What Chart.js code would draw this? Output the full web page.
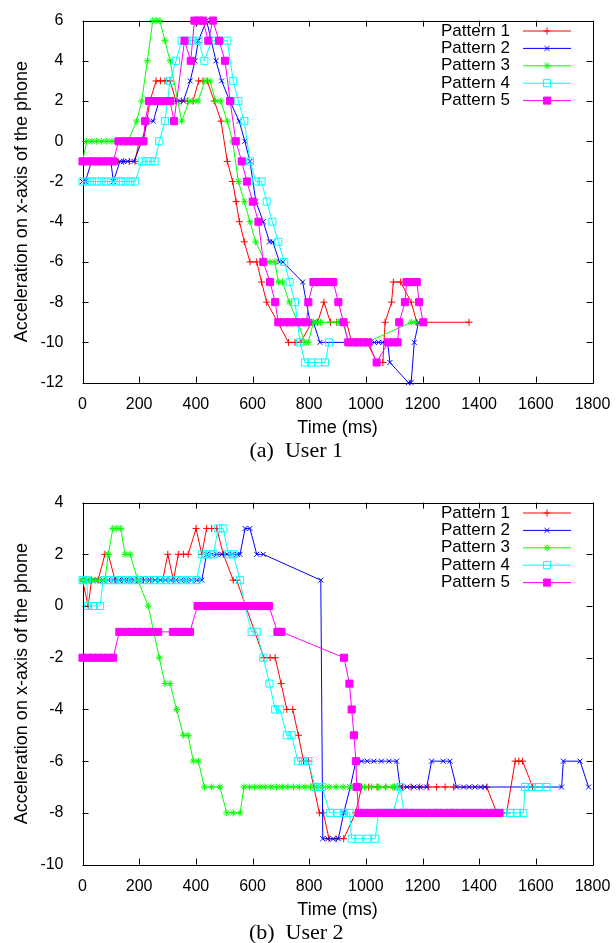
<!DOCTYPE html>
<html>
<head>
<meta charset="utf-8">
<script src="https://cdn.jsdelivr.net/npm/chart.js@4.4.1/dist/chart.umd.min.js"></script>
<style>
  html, body { margin: 0; padding: 0; background: #fff; overflow: hidden; }
  .panel { position: absolute; left: 0; width: 616px; height: 482px; }
</style>
</head>
<body>
<div class="panel" style="top:0"><canvas id="user1" width="616" height="482"></canvas></div>
<div class="panel" style="top:482px"><canvas id="user2" width="616" height="482"></canvas></div>
<script>
// [time (ms), acceleration] samples, user 1
const u1p1 = [[0,-1],[20,-1],[40,-1],[60,-1],[80,-1],[100,-1],[125,-1],[145,-1],[165,-1],[185,-1],[200,0],[215,0],[238,2],[260,3],[275,3],[291,3],[309,3],[330,2],[350,2],[370,2],[390,2],[410,3],[425,3],[440,3],[465,2],[489,1],[511,-1],[530,-2],[542,-3],[554,-4],[571,-5],[591,-6],[615,-6],[632,-7],[650,-8],[689,-9],[727,-10],[750,-10],[770,-10],[809,-9],[830,-9],[852,-8],[875,-9],[897,-9],[915,-9],[932,-9],[950,-10],[975,-10],[1004,-10],[1040,-11],[1060,-11],[1068,-9],[1091,-8],[1097,-7],[1123,-7],[1160,-8],[1180,-9],[1364,-9]];
const u1p2 = [[0,-2],[10,-2],[32,-1],[55,-1],[80,-1],[100,-1],[109,-2],[132,-1],[145,-1],[160,-1],[182,-1],[209,0],[229,1],[250,1],[270,2],[295,2],[315,2],[335,2],[356,2],[380,3],[397,4],[409,5],[438,6],[471,4],[491,3],[520,2],[553,1],[573,0],[591,-1],[612,-3],[638,-4],[660,-5],[672,-5],[695,-6],[707,-6],[777,-7],[803,-9],[815,-9],[838,-10],[1030,-10],[1045,-10],[1060,-10],[1077,-10],[1085,-11],[1150,-12],[1160,-12],[1171,-10],[1186,-9]];
const u1p3 = [[0,-1],[15,0],[33,0],[50,0],[68,0],[86,0],[104,0],[120,0],[140,0],[160,0],[191,1],[209,2],[229,4],[248,6],[260,6],[273,6],[291,5],[309,4],[350,1],[376,2],[392,2],[408,2],[432,3],[450,3],[470,2],[488,2],[511,1],[530,0],[550,-2],[571,-3],[591,-4],[611,-5],[645,-6],[662,-6],[679,-6],[691,-7],[706,-7],[730,-8],[760,-9],[785,-10],[797,-10],[815,-9],[827,-9],[840,-9],[903,-9],[918,-9],[940,-10],[1004,-10],[1160,-9],[1176,-9]];
const u1p4 = [[0,-2],[17,-2],[33,-2],[50,-2],[67,-2],[84,-2],[101,-2],[118,-2],[135,-2],[152,-2],[169,-2],[186,-2],[209,-1],[225,-1],[240,-1],[255,-1],[271,0],[291,1],[309,3],[330,4],[350,5],[368,5],[388,5],[409,5],[430,4],[456,5],[483,5],[511,5],[532,3],[550,2],[571,1],[591,-1],[612,-2],[632,-2],[650,-3],[670,-4],[691,-5],[712,-6],[731,-7],[750,-8],[768,-10],[785,-11],[808,-11],[832,-11],[856,-11],[870,-10]];
const u1p5 = [[0,-1],[18,-1],[36,-1],[55,-1],[73,-1],[91,-1],[109,-1],[127,0],[145,0],[163,0],[181,0],[199,0],[215,0],[221,1],[235,2],[250,2],[265,2],[280,2],[295,2],[309,2],[323,1],[360,5],[382,4],[395,6],[410,6],[425,6],[444,5],[460,6],[482,5],[503,4],[521,2],[541,0],[562,-1],[580,-2],[601,-3],[621,-4],[638,-6],[662,-7],[680,-8],[691,-9],[711,-9],[731,-9],[751,-9],[771,-9],[791,-9],[797,-8],[815,-7],[835,-7],[855,-7],[870,-7],[885,-7],[903,-8],[921,-9],[938,-10],[956,-10],[973,-10],[991,-10],[1009,-10],[1038,-11],[1079,-10],[1097,-10],[1112,-10],[1118,-9],[1138,-8],[1144,-7],[1162,-7],[1180,-7],[1188,-8],[1203,-9]];

// user 2
const u2p1 = [[0,1],[20,0],[32,1],[55,1],[79,2],[91,2],[115,1],[140,1],[165,1],[190,1],[215,1],[240,1],[265,1],[283,1],[301,2],[321,1],[338,2],[356,2],[373,2],[401,3],[421,2],[438,3],[456,3],[474,3],[497,2],[532,1],[544,1],[640,-2],[662,-2],[680,-2],[701,-3],[721,-4],[742,-4],[762,-5],[780,-6],[797,-6],[836,-8],[850,-8],[870,-9],[895,-9],[922,-9],[964,-8],[985,-7],[1010,-7],[1040,-7],[1070,-7],[1100,-7],[1130,-7],[1160,-7],[1190,-7],[1220,-7],[1250,-7],[1280,-7],[1310,-7],[1427,-7],[1462,-8],[1497,-8],[1527,-6],[1540,-6],[1553,-6],[1589,-7]];
const u2p2 = [[0,1],[18,1],[36,1],[55,1],[73,1],[91,1],[110,1],[128,1],[146,1],[165,1],[183,1],[201,1],[220,1],[238,1],[256,1],[275,1],[293,1],[311,1],[330,1],[348,1],[366,1],[385,1],[403,1],[421,1],[438,2],[456,2],[474,2],[492,2],[510,2],[528,2],[546,2],[556,2],[574,3],[591,3],[615,2],[638,2],[841,1],[848,-9],[866,-9],[884,-9],[903,-9],[922,-8],[945,-7],[965,-6],[985,-6],[1005,-6],[1028,-6],[1055,-6],[1082,-6],[1109,-6],[1121,-7],[1145,-7],[1170,-7],[1192,-7],[1215,-7],[1232,-6],[1273,-6],[1297,-6],[1320,-7],[1345,-7],[1365,-7],[1385,-7],[1405,-7],[1420,-7],[1691,-7],[1697,-6],[1756,-6],[1786,-7]];
const u2p3 = [[0,1],[15,1],[30,1],[45,1],[60,1],[79,1],[91,2],[107,3],[121,3],[135,3],[150,2],[168,2],[195,1],[232,0],[271,-2],[291,-3],[309,-3],[332,-4],[356,-5],[373,-5],[391,-6],[409,-6],[430,-7],[456,-7],[485,-7],[509,-8],[532,-8],[556,-8],[570,-7],[590,-7],[608,-7],[627,-7],[645,-7],[665,-7],[685,-7],[705,-7],[725,-7],[745,-7],[765,-7],[785,-7],[805,-7],[825,-7],[845,-7],[870,-7],[895,-7],[920,-7],[945,-7],[970,-7],[995,-7],[1020,-7],[1045,-7],[1070,-7],[1095,-7],[1110,-7]];
const u2p4 = [[0,1],[15,1],[20,0],[40,0],[62,0],[73,1],[95,1],[115,1],[135,1],[155,1],[175,1],[195,1],[215,1],[235,1],[255,1],[275,1],[295,1],[315,1],[335,1],[355,1],[375,1],[403,1],[421,2],[438,2],[450,2],[462,2],[479,3],[497,3],[515,2],[532,2],[556,1],[573,0],[597,-1],[615,-1],[638,-2],[660,-3],[680,-4],[697,-4],[721,-5],[738,-5],[760,-6],[778,-6],[797,-6],[821,-7],[845,-7],[873,-8],[900,-8],[922,-8],[943,-8],[950,-9],[975,-9],[1005,-9],[1033,-9],[1045,-8],[1070,-8],[1096,-8],[1121,-7],[1135,-8],[1160,-8],[1200,-8],[1250,-8],[1300,-8],[1350,-8],[1400,-8],[1450,-8],[1485,-8],[1510,-8],[1533,-8],[1556,-8],[1562,-7],[1585,-7],[1610,-7],[1638,-7]];
const u2p5 = [[0,-2],[18,-2],[36,-2],[55,-2],[73,-2],[91,-2],[108,-2],[130,-1],[156,-1],[174,-1],[193,-1],[211,-1],[230,-1],[248,-1],[267,-1],[319,-1],[338,-1],[357,-1],[379,-1],[406,0],[424,0],[442,0],[460,0],[478,0],[496,0],[514,0],[532,0],[550,0],[568,0],[586,0],[604,0],[622,0],[640,0],[658,0],[688,-1],[702,-1],[923,-2],[942,-3],[950,-4],[958,-5],[965,-6],[968,-7],[975,-8],[995,-8],[1015,-8],[1035,-8],[1055,-8],[1075,-8],[1095,-8],[1115,-8],[1135,-8],[1155,-8],[1175,-8],[1195,-8],[1215,-8],[1235,-8],[1255,-8],[1275,-8],[1295,-8],[1315,-8],[1335,-8],[1355,-8],[1375,-8],[1395,-8],[1415,-8],[1435,-8],[1455,-8],[1472,-8]];

const patternNames = ['Pattern 1', 'Pattern 2', 'Pattern 3', 'Pattern 4', 'Pattern 5'];
const xTicks = [0, 200, 400, 600, 800, 1000, 1200, 1400, 1600, 1800];
const u1YRange = [-12, 6];
const u2YRange = [-10, 4];

const styles = [
  { color: '#ff0000', point: 'cross', radius: 3.5, fill: '#ff0000' },
  { color: '#0000ff', point: 'crossRot', radius: 3.5, fill: '#0000ff' },
  { color: '#00ff00', point: 'star', radius: 3.5, fill: '#00ff00' },
  { color: '#00ffff', point: 'rect', radius: 5, fill: 'rgba(0,0,0,0)' },
  { color: '#ff00ff', point: 'rect', radius: 5, fill: '#ff00ff' }
];

const FONT = 'Liberation Sans';

// box with inward ticks on all four sides (gnuplot look)
const frame = {
  id: 'frame',
  beforeDatasetsDraw(chart) {
    const { ctx, chartArea: a, scales: { x, y } } = chart;
    ctx.save();
    ctx.strokeStyle = '#000';
    ctx.lineWidth = 1;
    ctx.beginPath();
    x.ticks.forEach(t => {
      const px = Math.round(x.getPixelForValue(t.value)) + 0.5;
      ctx.moveTo(px, a.bottom); ctx.lineTo(px, a.bottom - 6);
      ctx.moveTo(px, a.top); ctx.lineTo(px, a.top + 6);
    });
    y.ticks.forEach(t => {
      const py = Math.round(y.getPixelForValue(t.value)) + 0.5;
      ctx.moveTo(a.left, py); ctx.lineTo(a.left + 6, py);
      ctx.moveTo(a.right, py); ctx.lineTo(a.right - 6, py);
    });
    ctx.rect(Math.round(a.left) + 0.5, Math.round(a.top) + 0.5,
             Math.round(a.right - a.left), Math.round(a.bottom - a.top));
    ctx.stroke();
    ctx.restore();
  }
};

// key in the top right corner: label, then line sample with marker
const key = {
  id: 'key',
  afterDatasetsDraw(chart) {
    const { ctx } = chart;
    ctx.save();
    ctx.font = '17px "' + FONT + '"';
    ctx.textAlign = 'right';
    ctx.textBaseline = 'middle';
    chart.data.datasets.forEach((ds, i) => {
      const y = 31 + i * 17.4;
      ctx.fillStyle = '#000';
      ctx.fillText(ds.label, 510, y);
      ctx.strokeStyle = ds.borderColor;
      ctx.lineWidth = 1;
      ctx.beginPath();
      ctx.moveTo(523, y);
      ctx.lineTo(571, y);
      ctx.stroke();
      ctx.fillStyle = ds.pointBackgroundColor;
      Chart.helpers.drawPoint(ctx, { pointStyle: ds.pointStyle, radius: ds.pointRadius, rotation: 0, borderWidth: 1 }, 547, y);
    });
    ctx.restore();
  }
};

function makeChart(id, series, yRange, caption) {
  const datasets = series.map((pts, i) => ({
    label: patternNames[i],
    data: pts.map(p => ({ x: p[0], y: p[1] })),
    borderColor: styles[i].color,
    backgroundColor: styles[i].color,
    borderWidth: 1,
    pointStyle: styles[i].point,
    pointRadius: styles[i].radius,
    pointBorderWidth: 1,
    pointBorderColor: styles[i].color,
    pointBackgroundColor: styles[i].fill,
    tension: 0,
    fill: false,
    clip: 10,
    order: 5 - i
  }));

  new Chart(document.getElementById(id), {
    type: 'line',
    data: { datasets },
    options: {
      responsive: false,
      animation: false,
      devicePixelRatio: 1,
      events: [],
      layout: { padding: { top: 16, right: 23.5, left: 0, bottom: 0 } },
      plugins: {
        legend: { display: false },
        tooltip: { enabled: false },
        title: {
          display: true,
          position: 'bottom',
          text: caption,
          color: '#000',
          font: { family: 'Liberation Serif', size: 22, weight: 'normal' },
          padding: { top: 0, bottom: 17.5 }
        }
      },
      scales: {
        x: {
          type: 'linear',
          min: xTicks[0],
          max: xTicks[xTicks.length - 1],
          afterBuildTicks: s => { s.ticks = xTicks.map(v => ({ value: v })); },
          ticks: { color: '#000', padding: 4, font: { family: FONT, size: 16 }, maxRotation: 0, callback: v => String(v) },
          grid: { display: false },
          border: { display: false },
          title: { display: true, text: 'Time (ms)', color: '#000', font: { family: FONT, size: 18 }, padding: { top: 0, bottom: -1 } },
          afterFit: s => { s.height = 55.5; }
        },
        y: {
          type: 'linear',
          min: yRange[0],
          max: yRange[1],
          ticks: { stepSize: 2, color: '#000', padding: 11, font: { family: FONT, size: 16 }, callback: v => String(v) },
          grid: { display: false },
          border: { display: false },
          title: { display: true, text: 'Acceleration on x-axis of the phone', color: '#000', font: { family: FONT, size: 18 }, padding: { top: 11, bottom: 0 } },
          afterFit: s => { s.width = 82.5; }
        }
      }
    },
    plugins: [frame, key]
  });
}

makeChart('user1', [u1p1, u1p2, u1p3, u1p4, u1p5], u1YRange, '(a)  User 1');
makeChart('user2', [u2p1, u2p2, u2p3, u2p4, u2p5], u2YRange, '(b)  User 2');
</script>
</body>
</html>
